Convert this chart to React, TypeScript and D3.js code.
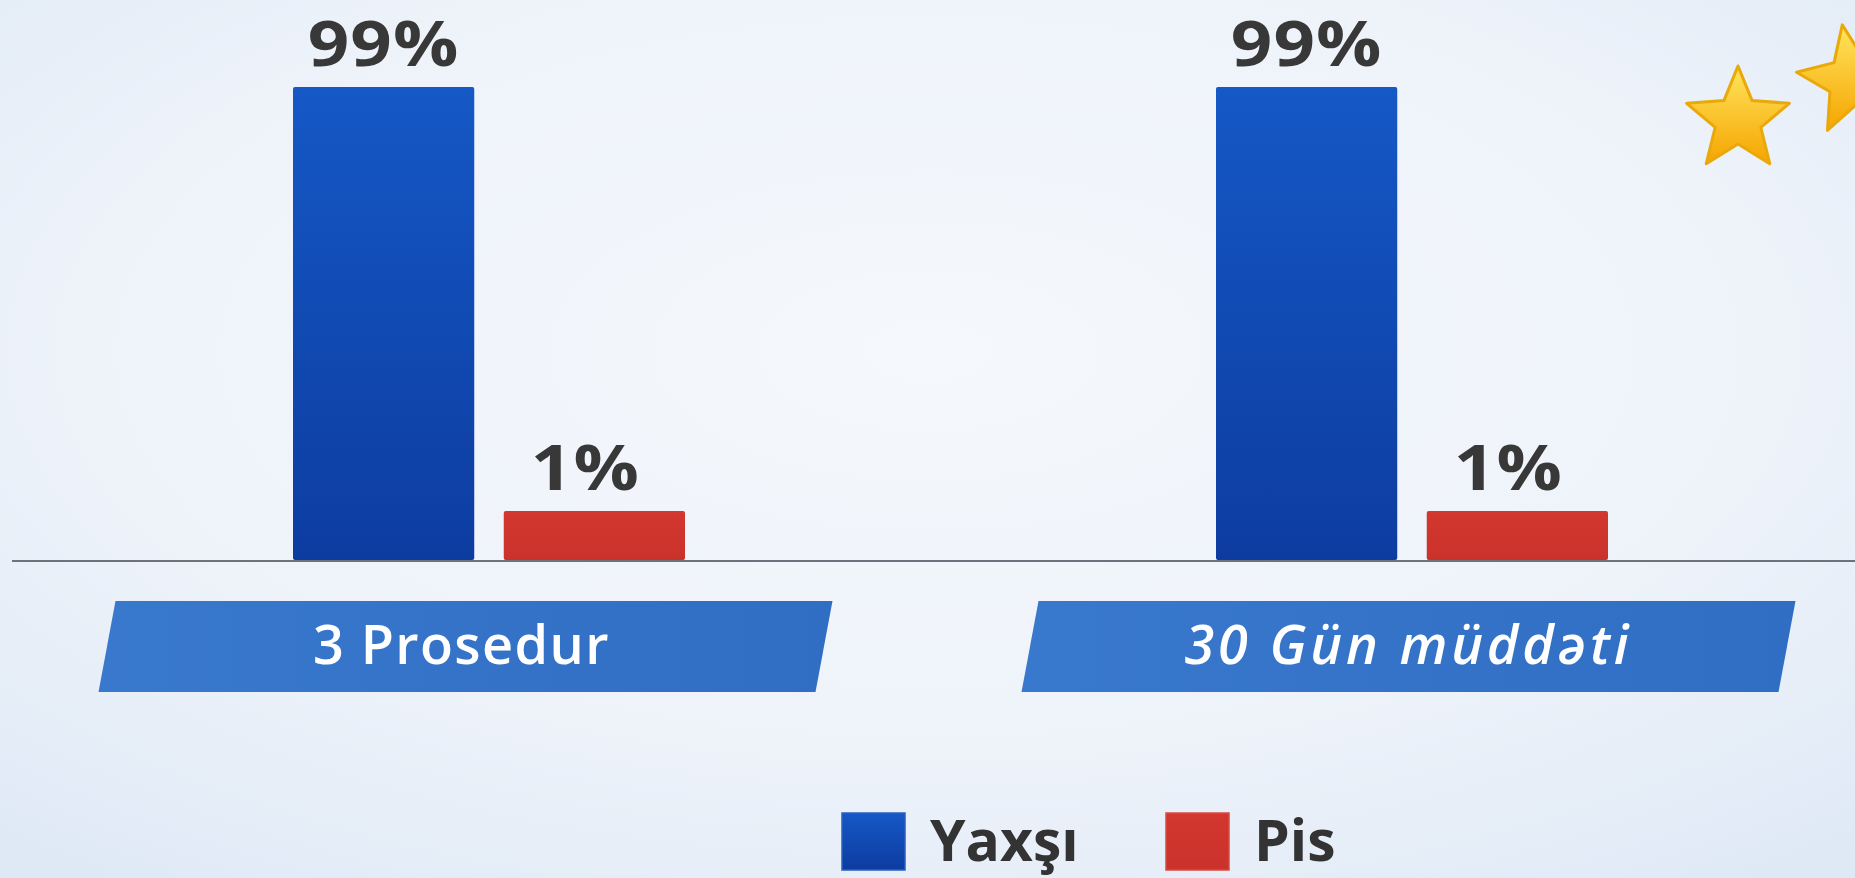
import React from "react";
import * as d3 from "d3";

const categories = ["3 Prosedur", "30 Gün müddəti"];
const seriesNames = ["Yaxşı", "Pis"];
const goodValues = [99, 99];
const badValues = [1, 1];

const W = 1855;
const H = 878;
const BASE_Y = 560;
const SERIES_COLORS = ["url(#blueBar)", "url(#redBar)"];
// banner extents relative to each category band (styling)
const BANNER_LEFT_PAD = 186;
const BANNER_RIGHT_PAD = [139, 179];

function starPath(cx: number, cy: number, R: number, r: number, rot: number) {
  const pts: [number, number][] = [];
  for (let i = 0; i < 10; i++) {
    const rad = i % 2 === 0 ? R : r;
    const a = (-90 + rot + i * 36) * (Math.PI / 180);
    pts.push([cx + rad * Math.cos(a), cy + rad * Math.sin(a)]);
  }
  return d3.line()(pts.concat([pts[0]])) + "Z";
}

export default function App() {
  const x0 = d3.scaleBand<string>().domain(categories).range([293, 1608]).paddingInner(0.5753).paddingOuter(0);
  const x1 = d3.scaleBand<string>().domain(seriesNames).range([0, x0.bandwidth()]).paddingInner(0.14);
  const y = d3.scaleLinear().domain([-10.3, 99]).range([BASE_Y, 87]);

  const data = categories.map((c, i) => ({ cat: c, vals: [goodValues[i], badValues[i]] }));

  const bannerTop = 601;
  const bannerBot = 692;
  const skew = 8.5;

  return (
    <svg width={W} height={H} style={{ display: "block", position: "absolute", left: 0, top: 0 }}>
      <defs>
        <radialGradient id="bg" cx="50%" cy="40%" r="75%">
          <stop offset="0%" stopColor="#f5f8fc" />
          <stop offset="60%" stopColor="#eef3fa" />
          <stop offset="100%" stopColor="#dfe9f6" />
        </radialGradient>
        <linearGradient id="blueBar" x1="0" y1="0" x2="0" y2="1">
          <stop offset="0%" stopColor="#1558c6" />
          <stop offset="100%" stopColor="#0d3ca0" />
        </linearGradient>
        <linearGradient id="redBar" x1="0" y1="0" x2="0" y2="1">
          <stop offset="0%" stopColor="#d3372f" />
          <stop offset="100%" stopColor="#c9322b" />
        </linearGradient>
        <linearGradient id="banner" x1="0" y1="0" x2="1" y2="0">
          <stop offset="0%" stopColor="#3878cd" />
          <stop offset="100%" stopColor="#306ec3" />
        </linearGradient>
        <linearGradient id="star" x1="0" y1="0" x2="0" y2="1">
          <stop offset="0%" stopColor="#ffe45e" />
          <stop offset="100%" stopColor="#f6a500" />
        </linearGradient>
      </defs>
      <rect x={0} y={0} width={W} height={H} fill="url(#bg)" />

      {/* stars */}
      <path d={starPath(1738, 120, 54, 24, 0)} fill="url(#star)" stroke="#e9a90a" strokeWidth={3} strokeLinejoin="round" />
      <path d={starPath(1852, 80, 56, 25, -10)} fill="url(#star)" stroke="#e9a90a" strokeWidth={3} strokeLinejoin="round" />

      {data.map((d) => (
        <g key={d.cat} transform={`translate(${x0(d.cat)},0)`}>
          {d.vals.map((v, j) => {
            const cx = (x1(seriesNames[j]) as number) + x1.bandwidth() / 2 - (j === 1 ? 9 : 0);
            return (
              <g key={seriesNames[j]}>
                <rect
                  x={x1(seriesNames[j])}
                  y={y(v)}
                  width={x1.bandwidth()}
                  height={BASE_Y - y(v)}
                  fill={SERIES_COLORS[j]}
                  rx={2}
                />
                <text
                  transform={`translate(${cx},${y(v) - 21}) scale(1.17,1)`}
                  textAnchor="middle"
                  fontFamily="'Open Sans', sans-serif"
                  fontWeight={700}
                  fontSize={62}
                  letterSpacing={1}
                  fill="#383838"
                >
                  {`${v}%`}
                </text>
              </g>
            );
          })}
        </g>
      ))}

      <line x1={12} x2={W} y1={BASE_Y + 1} y2={BASE_Y + 1} stroke="#6d737d" strokeWidth={2} />

      {categories.map((c, i) => {
        const l = (x0(c) as number) - BANNER_LEFT_PAD;
        const r = (x0(c) as number) + x0.bandwidth() + BANNER_RIGHT_PAD[i];
        const cx = (l + r) / 2;
        const pts = `${l + skew},${bannerTop} ${r + skew},${bannerTop} ${r - skew},${bannerBot} ${l - skew},${bannerBot}`;
        return (
          <g key={c}>
            <polygon points={pts} fill="url(#banner)" />
            <text
              x={cx - (i === 1 ? 0 : 4)}
              y={664}
              textAnchor="middle"
              fontFamily="'Open Sans', sans-serif"
              fontWeight={600}
              fontStyle={i === 1 ? "italic" : "normal"}
              fontSize={54}
              letterSpacing={i === 1 ? 3.8 : 1.4}
              fill="#ffffff"
            >
              {c}
            </text>
          </g>
        );
      })}

      {/* legend */}
      {seriesNames.map((s, j) => {
        const lx = j === 0 ? 842 : 1166;
        return (
          <g key={s} transform={`translate(${lx},813)`}>
            <rect x={0} y={0} width={63} height={57} fill={SERIES_COLORS[j]} stroke={j === 0 ? "#2a5fc0" : "#d84a40"} strokeWidth={1.5} />
            <text x={88} y={48} fontFamily="'Open Sans', sans-serif" fontWeight={700} fontSize={57} fill="#333333">
              {s}
            </text>
          </g>
        );
      })}
    </svg>
  );
}
